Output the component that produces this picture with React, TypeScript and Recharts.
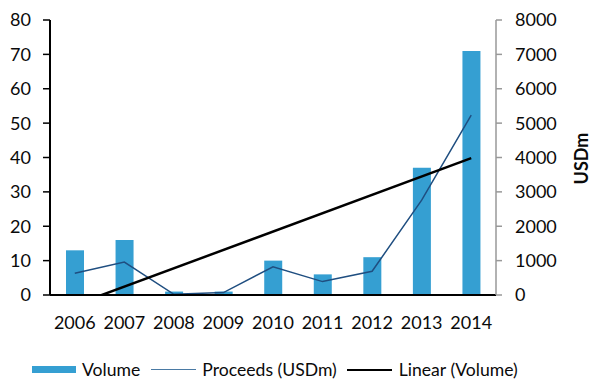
import { ComposedChart, Bar, Line, XAxis, YAxis, Legend } from "recharts"

const YEARS = ["2006", "2007", "2008", "2009", "2010", "2011", "2012", "2013", "2014"]
const VOLUME = [13, 16, 1, 1, 10, 6, 11, 37, 71]
const PROCEEDS = [630, 960, 20, 70, 820, 390, 690, 2760, 5230]
// Linear trend of volume: only the two ends are drawn, joined straight
const TREND = [-2.9, null, null, null, null, null, null, null, 39.8]

const VOLUME_TICKS = [0, 10, 20, 30, 40, 50, 60, 70, 80]
const PROCEEDS_TICKS = [0, 1000, 2000, 3000, 4000, 5000, 6000, 7000, 8000]

const BAR_COLOR = "#359fd2"
const PROCEEDS_COLOR = "#1f4e80"
const FONT = "Lato, 'Open Sans', sans-serif"

const data = YEARS.map((year, i) => ({
  year,
  volume: VOLUME[i],
  proceeds: PROCEEDS[i],
  trend: TREND[i],
}))

const tickStyle = { fill: "#0a0a0a", fontSize: 18, fontFamily: FONT }

function ChartLegend() {
  return (
    <div
      style={{
        display: "flex",
        alignItems: "center",
        paddingLeft: 32,
        paddingTop: 24,
        fontFamily: FONT,
        fontSize: 17.6,
        color: "#0a0a0a",
        whiteSpace: "nowrap",
      }}
    >
      <span style={{ width: 44, height: 7, background: BAR_COLOR, marginRight: 6 }} />
      <span style={{ marginRight: 11 }}>Volume</span>
      <span style={{ width: 45, height: 1.5, background: "#4a7aa4", marginRight: 6 }} />
      <span style={{ marginRight: 10 }}>Proceeds (USDm)</span>
      <span style={{ width: 45, height: 2, background: "#000", marginRight: 7 }} />
      <span>Linear (Volume)</span>
    </div>
  )
}

export default function App() {
  return (
    <div style={{ position: "absolute", left: 0, top: 0, background: "#fff" }}>
      <ComposedChart
        width={591}
        height={381}
        data={data}
        margin={{ top: 20, right: 0, bottom: 0, left: 0 }}
        barSize={18}
      >
        <XAxis
          dataKey="year"
          tick={tickStyle}
          tickLine={false}
          tickSize={0}
          tickMargin={21}
          height={40}
          axisLine={{ stroke: "#000", strokeWidth: 2 }}
          interval={0}
        />
        <YAxis
          yAxisId="left"
          domain={[0, 80]}
          ticks={VOLUME_TICKS}
          allowDataOverflow
          width={50}
          tick={tickStyle}
          tickSize={7}
          tickMargin={12}
          axisLine={{ stroke: "#000", strokeWidth: 2 }}
          tickLine={{ stroke: "#000", strokeWidth: 1.5 }}
        />
        <YAxis
          yAxisId="right"
          orientation="right"
          domain={[0, 8000]}
          ticks={PROCEEDS_TICKS}
          width={95}
          tick={tickStyle}
          tickSize={6}
          tickMargin={13}
          axisLine={{ stroke: "#999", strokeWidth: 1.5 }}
          tickLine={{ stroke: "#999", strokeWidth: 1.5 }}
          label={{
            content: ({ viewBox }: any) => {
              const cx = viewBox.x + viewBox.width - 10
              const cy = viewBox.y + viewBox.height / 2 + 1
              return (
                <text
                  x={cx}
                  y={cy}
                  transform={`rotate(-90 ${cx} ${cy})`}
                  textAnchor="middle"
                  dominantBaseline="central"
                  fontFamily={FONT}
                  fontSize={18}
                  fontWeight="bold"
                  fill="#0a0a0a"
                >
                  USDm
                </text>
              )
            },
          }}
        />
        <Legend verticalAlign="bottom" height={46} content={<ChartLegend />} />
        <Bar yAxisId="left" dataKey="volume" fill={BAR_COLOR} isAnimationActive={false} />
        <Line
          yAxisId="right"
          type="linear"
          dataKey="proceeds"
          stroke={PROCEEDS_COLOR}
          strokeWidth={1.5}
          dot={false}
          isAnimationActive={false}
        />
        <Line
          yAxisId="left"
          type="linear"
          dataKey="trend"
          stroke="#000"
          strokeWidth={2.5}
          dot={false}
          connectNulls
          isAnimationActive={false}
        />
      </ComposedChart>
    </div>
  )
}
